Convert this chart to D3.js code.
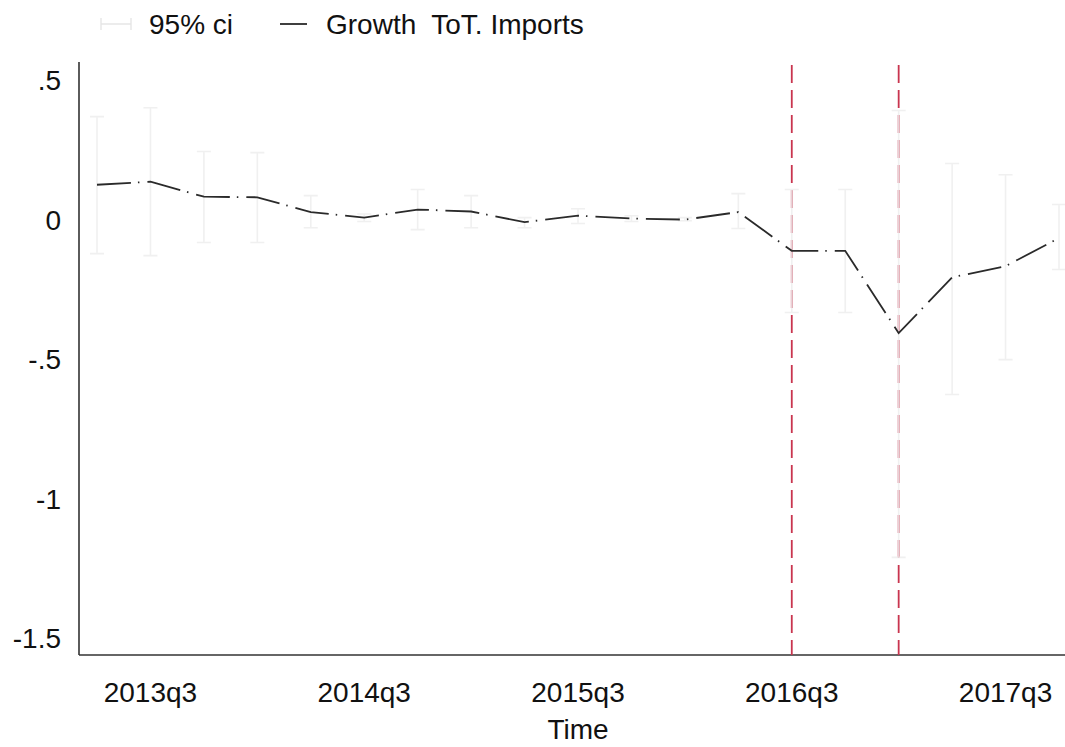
<!DOCTYPE html>
<html>
<head>
<meta charset="utf-8">
<script src="https://cdn.jsdelivr.net/npm/d3@7"></script>
<style>
  body { margin: 0; background: #fff; }
  text { font-family: "Liberation Sans", Arial, sans-serif; fill: #111; }
</style>
</head>
<body>
<svg width="1065" height="747"></svg>
<script>
// quarters shown on the x axis (2013q2 .. 2017q4)
const quarters = ["2013q2","2013q3","2013q4","2014q1","2014q2","2014q3","2014q4","2015q1","2015q2",
  "2015q3","2015q4","2016q1","2016q2","2016q3","2016q4","2017q1","2017q2","2017q3","2017q4"];

// point estimates
const growth = [0.125, 0.136, 0.082, 0.080, 0.027, 0.007, 0.036, 0.029, -0.009,
  0.014, 0.004, 0.000, 0.027, -0.112, -0.112, -0.407, -0.207, -0.167, -0.066];

// 95% ci bounds
const ciUpper = [0.369, 0.401, 0.244, 0.240, 0.086, 0.020, 0.108, 0.086, 0.007,
  0.039, 0.014, 0.007, 0.093, 0.108, 0.108, 0.391, 0.201, 0.161, 0.054];
const ciLower = [-0.122, -0.129, -0.082, -0.082, -0.029, -0.007, -0.036, -0.029, -0.029,
  -0.014, -0.007, -0.004, -0.032, -0.333, -0.333, -1.211, -0.627, -0.502, -0.179];

// tick labels
const xTicks = ["2013q3","2014q3","2015q3","2016q3","2017q3"];
const yTicks = [0.5, 0, -0.5, -1, -1.5];
const yTickLabels = [".5", "0", "-.5", "-1", "-1.5"];

// reference lines (dashed red)
const events = ["2016q3", "2017q1"];

const svg = d3.select("svg");

const x = d3.scaleLinear()
  .domain([0, quarters.length - 1])
  .range([97, 1059]);

const y = d3.scaleLinear()
  .domain([-1.561, 0.565])
  .range([655, 62]);

const fs = 28;

// axes lines
const axisColor = "#333";
svg.append("line")
  .attr("x1", 79).attr("x2", 79)
  .attr("y1", y(0.565)).attr("y2", y(-1.561))
  .attr("stroke", axisColor).attr("stroke-width", 1.6);
svg.append("line")
  .attr("x1", 79).attr("x2", 1065)
  .attr("y1", y(-1.561)).attr("y2", y(-1.561))
  .attr("stroke", axisColor).attr("stroke-width", 1.6);

// y tick labels
svg.selectAll(".ylab")
  .data(yTicks)
  .enter().append("text")
    .attr("class", "ylab")
    .attr("x", 61)
    .attr("y", d => y(d))
    .attr("dy", "0.36em")
    .attr("text-anchor", "end")
    .attr("font-size", fs)
    .text((d, i) => yTickLabels[i]);

// x tick labels
svg.selectAll(".xlab")
  .data(xTicks)
  .enter().append("text")
    .attr("class", "xlab")
    .attr("x", d => x(quarters.indexOf(d)))
    .attr("y", 702)
    .attr("text-anchor", "middle")
    .attr("font-size", fs)
    .text(d => d);

svg.append("text")
  .attr("x", 578).attr("y", 739)
  .attr("text-anchor", "middle")
  .attr("font-size", fs)
  .text("Time");

// red dashed event lines
svg.selectAll(".event")
  .data(events)
  .enter().append("line")
    .attr("class", "event")
    .attr("x1", d => x(quarters.indexOf(d)))
    .attr("x2", d => x(quarters.indexOf(d)))
    .attr("y1", 65)
    .attr("y2", y(-1.561))
    .attr("stroke", "#c9354f")
    .attr("stroke-width", 1.8)
    .attr("stroke-dasharray", "18,7");

// confidence intervals, drawn over the event lines
const ci = svg.append("g")
  .attr("stroke", "#ededed")
  .attr("stroke-opacity", 0.85)
  .attr("stroke-width", 1.6)
  .attr("fill", "none");

ci.selectAll("path")
  .data(quarters)
  .enter().append("path")
    .attr("d", (d, i) => {
      const cx = x(i), y0 = y(ciUpper[i]), y1 = y(ciLower[i]), w = 7;
      return `M${cx - w},${y0}H${cx + w}M${cx},${y0}V${y1}M${cx - w},${y1}H${cx + w}`;
    });

// the estimate line, dash-dot
const line = d3.line()
  .x((d, i) => x(i))
  .y(d => y(d));

svg.append("path")
  .datum(growth)
  .attr("d", line)
  .attr("fill", "none")
  .attr("stroke", "#2a2a2a")
  .attr("stroke-width", 1.8)
  .attr("stroke-dasharray", "34,7,1.5,8");

// legend
const lg = svg.append("g");
lg.append("path")
  .attr("d", "M101,18V30M101,24H131M131,18V30")
  .attr("stroke", "#e6e6e6").attr("stroke-width", 1.4).attr("fill", "none");
lg.append("text")
  .attr("x", 149).attr("y", 34)
  .attr("font-size", fs)
  .text("95% ci");
lg.append("line")
  .attr("x1", 280).attr("x2", 307)
  .attr("y1", 24).attr("y2", 24)
  .attr("stroke", "#2a2a2a").attr("stroke-width", 1.8);
lg.append("text")
  .attr("x", 326).attr("y", 34)
  .attr("font-size", fs)
  .attr("xml:space", "preserve")
  .style("white-space", "pre")
  .text("Growth  ToT. Imports");
</script>
</body>
</html>
